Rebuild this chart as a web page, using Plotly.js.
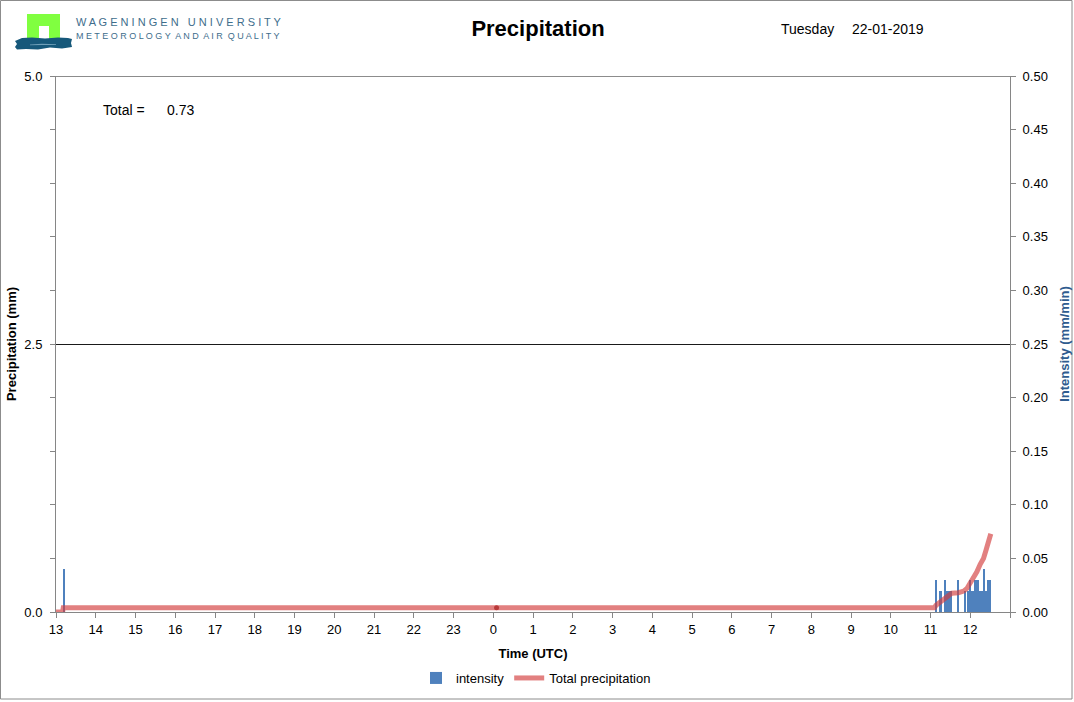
<!DOCTYPE html>
<html>
<head>
<meta charset="utf-8">
<script src="https://cdn.plot.ly/plotly-3.0.1.min.js"></script>
<style>
html,body{margin:0;padding:0;background:#fff;overflow:hidden;}
#chart{width:1074px;height:702px;}
</style>
</head>
<body>
<div id="chart"></div>
<script>
// ---- data ----
const intensityTimes = [
  "2019-01-21 13:12",
  "2019-01-22 11:08","2019-01-22 11:15","2019-01-22 11:22","2019-01-22 11:25",
  "2019-01-22 11:28","2019-01-22 11:31","2019-01-22 11:42","2019-01-22 11:52",
  "2019-01-22 11:56","2019-01-22 11:59","2019-01-22 12:02","2019-01-22 12:05",
  "2019-01-22 12:08","2019-01-22 12:11","2019-01-22 12:14","2019-01-22 12:17",
  "2019-01-22 12:21","2019-01-22 12:24","2019-01-22 12:27","2019-01-22 12:30"
];
const intensityValues = [
  0.04,
  0.03, 0.02, 0.03, 0.02,
  0.02, 0.02, 0.03, 0.02,
  0.02, 0.03, 0.02, 0.02,
  0.03, 0.03, 0.02, 0.02,
  0.04, 0.02, 0.03, 0.03
];
const totalTimes = [
  "2019-01-21 13:00","2019-01-21 13:10","2019-01-21 13:11","2019-01-22 11:06",
  "2019-01-22 11:08","2019-01-22 11:14","2019-01-22 11:22","2019-01-22 11:27",
  "2019-01-22 11:32","2019-01-22 11:42","2019-01-22 11:50","2019-01-22 11:55",
  "2019-01-22 12:00","2019-01-22 12:05","2019-01-22 12:10","2019-01-22 12:15",
  "2019-01-22 12:20","2019-01-22 12:24","2019-01-22 12:27","2019-01-22 12:30",
  "2019-01-22 12:31"
];
const totalValues = [
  0, 0, 0.04, 0.04,
  0.06, 0.09, 0.13, 0.16,
  0.175, 0.18, 0.195, 0.22,
  0.27, 0.315, 0.375, 0.445,
  0.50, 0.58, 0.655, 0.72,
  0.73
];
const markerTimes = ["2019-01-22 00:05"];
const markerValues = [0.04];
const hourLabels = ["13","14","15","16","17","18","19","20","21","22","23",
  "0","1","2","3","4","5","6","7","8","9","10","11","12",""];
const totalText = "0.73";
const dayName = "Tuesday";
const dateText = "22-01-2019";

// ---- layout helpers ----
const W = 1074, H = 702, L = 56, R = 64, T = 76, B = 90;
const PW = W - L - R, PH = H - T - B;
const px = x => (x - L) / PW;
const py = y => (H - B - y) / PH;
const pad = n => (n < 10 ? "0" : "") + n;
const tickVals = hourLabels.map((_, i) => {
  const d = new Date(Date.UTC(2019, 0, 21, 13 + i, 0));
  return d.getUTCFullYear() + "-" + pad(d.getUTCMonth() + 1) + "-" + pad(d.getUTCDate()) +
    " " + pad(d.getUTCHours()) + ":00";
});
function path(pts) {
  return "M" + pts.map(p => px(p[0]).toFixed(5) + "," + py(p[1]).toFixed(5)).join(" L") + " Z";
}

const FONT = "Liberation Sans, Arial, sans-serif";
const AXC = "#868686";

const traces = [
  {
    type: "bar", name: "intensity", x: intensityTimes, y: intensityValues,
    yaxis: "y", width: 192000,
    marker: {color: "#4F81BD", line: {width: 0}}
  },
  {
    type: "scatter", mode: "lines", name: "Total precipitation",
    x: totalTimes, y: totalValues, yaxis: "y2",
    line: {color: "rgba(210,60,60,0.65)", width: 5}
  },
  {
    type: "scatter", mode: "markers", x: markerTimes, y: markerValues, yaxis: "y2",
    showlegend: false, hoverinfo: "skip",
    marker: {color: "#B83A3A", size: 5}
  }
];

const layout = {
  width: W, height: H,
  margin: {l: L, r: R, t: T, b: B, pad: 0, autoexpand: false},
  paper_bgcolor: "#fff", plot_bgcolor: "rgba(0,0,0,0)",
  font: {family: FONT, size: 13, color: "#000"},
  showlegend: true,
  bargap: 0,
  title: {
    text: "<b>Precipitation</b>", x: 538 / W, xref: "container", xanchor: "center",
    y: 1 - 28 / H, yref: "container", yanchor: "middle",
    font: {family: FONT, size: 22, color: "#000"}
  },
  legend: {
    orientation: "h", xref: "container", yref: "container",
    x: 536 / W, xanchor: "center", y: 1 - 678 / H, yanchor: "middle",
    font: {family: FONT, size: 13, color: "#000"}, bgcolor: "rgba(0,0,0,0)",
    itemwidth: 30, traceorder: "normal"
  },
  xaxis: {
    type: "date",
    range: ["2019-01-21 13:00", "2019-01-22 13:00"],
    tickmode: "array", tickvals: tickVals, ticktext: hourLabels,
    ticks: "outside", ticklen: 5, tickcolor: AXC,
    showline: true, linecolor: AXC, linewidth: 1,
    showgrid: false, zeroline: false,
    tickfont: {family: FONT, size: 13, color: "#000"},
    title: {text: "<b>Time (UTC)</b>", font: {family: FONT, size: 13, color: "#000"}, standoff: 13}
  },
  yaxis: {
    side: "right", range: [0, 0.5], dtick: 0.05, tick0: 0, tickformat: ".2f",
    ticks: "outside", ticklen: 5, tickcolor: AXC, ticklabelstandoff: 4,
    showline: true, linecolor: AXC, linewidth: 1,
    showgrid: false, zeroline: false,
    tickfont: {family: FONT, size: 13, color: "#000"},
    title: {text: "<b>Intensity (mm/min)</b>", font: {family: FONT, size: 13, color: "#2F5C8F"}, standoff: 12}
  },
  yaxis2: {
    overlaying: "y", side: "left", range: [0, 5], dtick: 2.5, tick0: 0, tickformat: ".1f",
    ticks: "outside", ticklen: 5, tickcolor: AXC, ticklabelstandoff: 5,
    minor: {dtick: 0.5, ticks: "outside", ticklen: 5, tickcolor: AXC, showgrid: false},
    showline: true, linecolor: AXC, linewidth: 1,
    showgrid: true, gridcolor: "#1a1a1a", gridwidth: 1, zeroline: false,
    tickfont: {family: FONT, size: 13, color: "#000"},
    title: {text: "<b>Precipitation (mm)</b>", font: {family: FONT, size: 13, color: "#000"}, standoff: 4}
  },
  shapes: [
    // chart border
    {type: "rect", xref: "paper", yref: "paper", x0: px(0.5), x1: px(1072), y0: py(699), y1: py(0.5),
      line: {color: "#8c8c8c", width: 1}, fillcolor: "rgba(0,0,0,0)", layer: "below"},
    // top gridline (5.0)
    {type: "line", xref: "paper", yref: "y2", x0: 0, x1: 1, y0: 5, y1: 5,
      line: {color: "#1a1a1a", width: 1}, layer: "below"},
    // logo: green block
    {type: "rect", xref: "paper", yref: "paper", x0: px(27), x1: px(60), y0: py(40), y1: py(14),
      line: {width: 0}, fillcolor: "#80FF40"},
    {type: "rect", xref: "paper", yref: "paper", x0: px(39), x1: px(49), y0: py(40), y1: py(26),
      line: {width: 0}, fillcolor: "#ffffff"},
    // logo: wave
    {type: "path", xref: "paper", yref: "paper", line: {width: 0}, fillcolor: "#16587A",
      path: path([[15,41],[22,38],[32,37.5],[45,38.5],[58,37.5],[68,38],[72,39],[71,43],[72,47],
                  [62,48.5],[50,47.5],[38,49.5],[26,49],[17,49.5],[15,47],[17,44]])},
    {type: "path", xref: "paper", yref: "paper", line: {width: 0}, fillcolor: "#6f9fb8",
      path: path([[30,44.5],[42,43.8],[56,44.2],[56,45],[42,45],[30,45.3]])}
  ],
  annotations: [
    {xref: "paper", yref: "paper", x: px(74), y: py(22), xanchor: "left", yanchor: "middle", showarrow: false,
      text: "W A G E N I N G E N\u00a0\u00a0 U N I V E R S I T Y",
      font: {family: FONT, size: 11, color: "#3E6D8C"}},
    {xref: "paper", yref: "paper", x: px(74), y: py(36), xanchor: "left", yanchor: "middle", showarrow: false,
      text: "M E T E O R O L O G Y\u00a0 A N D\u00a0 A I R\u00a0 Q U A L I T Y",
      font: {family: FONT, size: 9, color: "#3E6D8C"}},
    {xref: "paper", yref: "paper", x: px(779), y: py(29), xanchor: "left", yanchor: "middle", showarrow: false,
      text: dayName, font: {family: FONT, size: 14, color: "#000"}},
    {xref: "paper", yref: "paper", x: px(850), y: py(29), xanchor: "left", yanchor: "middle", showarrow: false,
      text: dateText, font: {family: FONT, size: 14, color: "#000"}},
    {xref: "paper", yref: "paper", x: px(101), y: py(110), xanchor: "left", yanchor: "middle", showarrow: false,
      text: "Total =", font: {family: FONT, size: 14, color: "#000"}},
    {xref: "paper", yref: "paper", x: px(165), y: py(110), xanchor: "left", yanchor: "middle", showarrow: false,
      text: totalText, font: {family: FONT, size: 14, color: "#000"}}
  ]
};

Plotly.newPlot("chart", traces, layout, {displayModeBar: false, staticPlot: true});
</script>
</body>
</html>
